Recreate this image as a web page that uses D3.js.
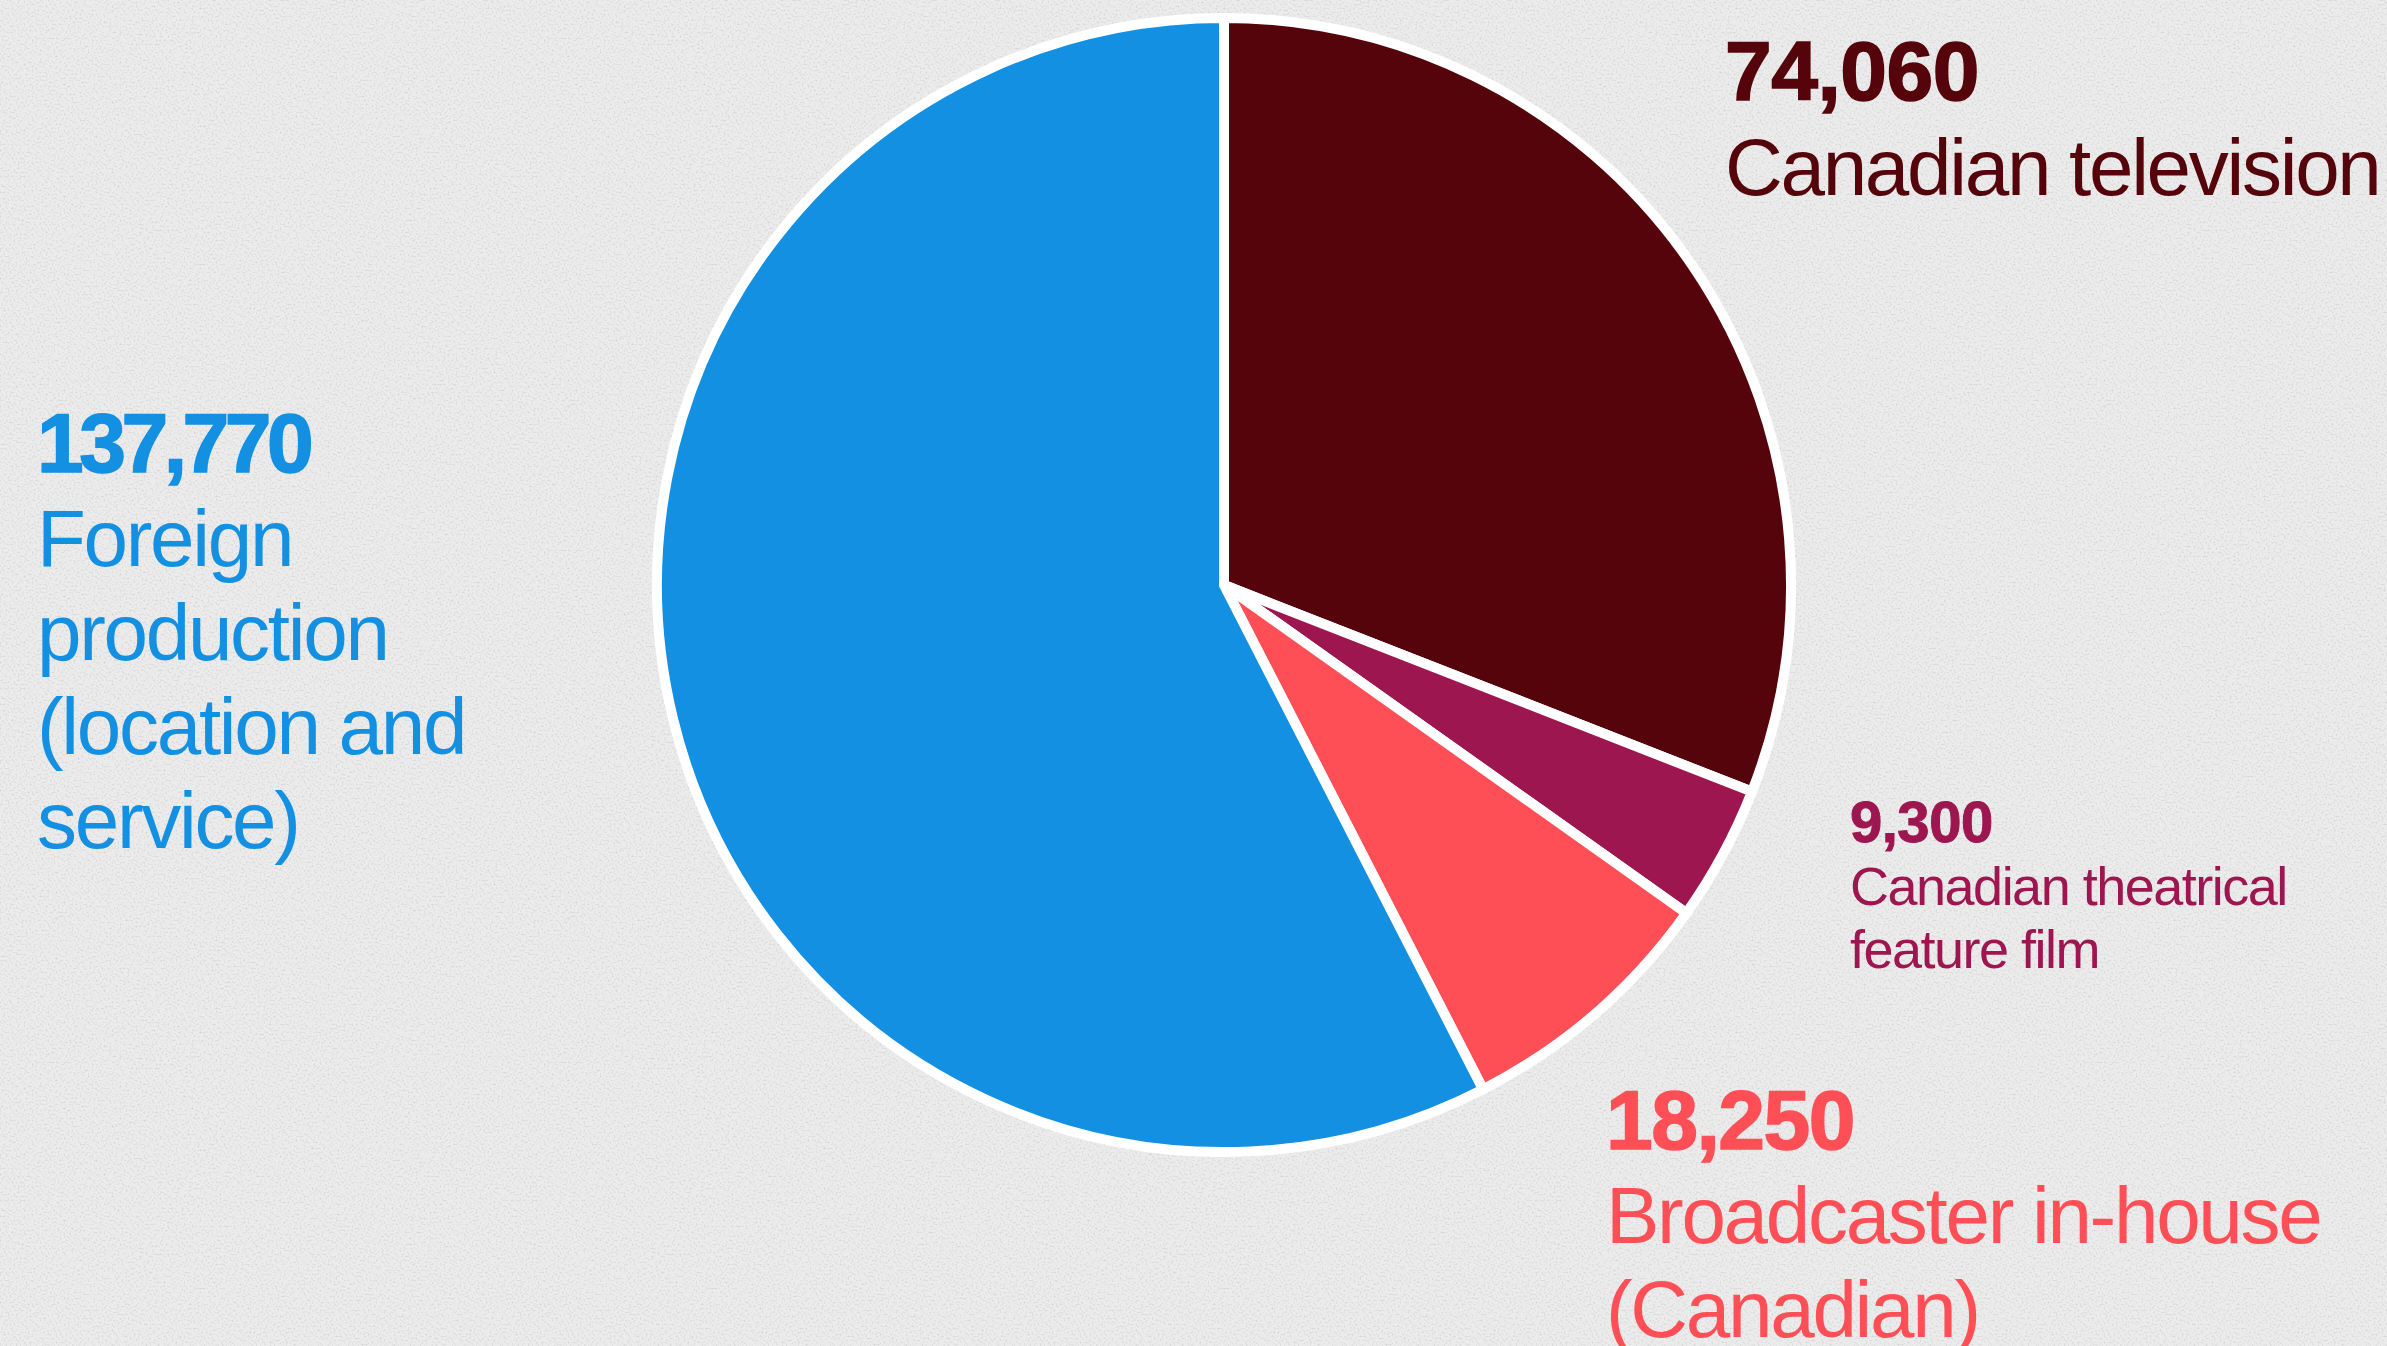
<!DOCTYPE html>
<html>
<head>
<meta charset="utf-8">
<script src="https://cdn.jsdelivr.net/npm/d3@7"></script>
<style>
  html, body { margin: 0; padding: 0; background: #e7e7e7; overflow: hidden; }
  svg { display: block; }
</style>
</head>
<body>
<svg id="chart" width="2387" height="1346"></svg>
<script>
// ---- data ----
const categories = [
  "Canadian television",
  "Canadian theatrical feature film",
  "Broadcaster in-house (Canadian)",
  "Foreign production (location and service)"
];
const values = [74060, 9300, 18250, 137770];
const labelLines = [
  ["Canadian television"],
  ["Canadian theatrical", "feature film"],
  ["Broadcaster in-house", "(Canadian)"],
  ["Foreign", "production", "(location and", "service)"]
];
const colors = ["#56040b", "#9e1650", "#fe4f57", "#1390e2"];

// ---- layout (not data) ----
const W = 2387, H = 1346;
const cx = 1224, cy = 585, R = 567;
const labelLayout = [
  { x: 1725, y: 100, numSize: 84, numLs: -0.5, txtSize: 80, lh: 95, ls: -2.3 },
  { x: 1850, y: 842, numSize: 58, numLs: -0.5, txtSize: 54, lh: 63, ls: -1.5 },
  { x: 1606, y: 1149, numSize: 84, numLs: -1.5, txtSize: 80, lh: 94, ls: -2.3 },
  { x: 37,   y: 472, numSize: 84, numLs: -4.5, txtSize: 80, lh: 94, ls: -2.3 }
];

const svg = d3.select("#chart");

// paper texture background
const defs = svg.append("defs");
const f = defs.append("filter").attr("id", "grain")
  .attr("x", 0).attr("y", 0).attr("width", "100%").attr("height", "100%");
f.append("feTurbulence").attr("type", "fractalNoise")
  .attr("baseFrequency", 0.5).attr("numOctaves", 3).attr("seed", 7).attr("result", "n");
f.append("feColorMatrix").attr("type", "matrix")
  .attr("values", "0 0 0 0 0  0 0 0 0 0  0 0 0 0 0  -1.3 0 0 0 0.7");
svg.append("rect").attr("width", W).attr("height", H).attr("fill", "#ececec");
svg.append("rect").attr("width", W).attr("height", H).attr("fill", "#000")
  .attr("filter", "url(#grain)").attr("opacity", 0.2);

// pie
const pie = d3.pie().sort(null).value(d => d)
  .startAngle(0).endAngle(2 * Math.PI);
const arc = d3.arc().innerRadius(0).outerRadius(R);
const arcs = pie(values);

const g = svg.append("g").attr("transform", `translate(${cx},${cy})`);
g.selectAll("path").data(arcs).enter().append("path")
  .attr("d", arc)
  .attr("fill", (d, i) => colors[i])
  .attr("stroke", "#ffffff")
  .attr("stroke-width", 10)
  .attr("stroke-linejoin", "miter");

// labels
const fmt = d3.format(",");
const lab = svg.append("g").attr("font-family", "'Liberation Sans', Arial, Helvetica, sans-serif");
values.forEach((v, i) => {
  const L = labelLayout[i];
  const t = lab.append("g").attr("fill", colors[i]);
  t.append("text")
    .attr("x", L.x).attr("y", L.y)
    .attr("font-size", L.numSize)
    .attr("font-weight", "bold")
    .attr("letter-spacing", L.numLs)
    .attr("stroke", colors[i])
    .attr("stroke-width", L.numSize > 60 ? 1.6 : 1)
    .text(fmt(v));
  labelLines[i].forEach((line, j) => {
    t.append("text")
      .attr("x", L.x).attr("y", L.y + L.lh * (j + 1))
      .attr("font-size", L.txtSize)
      .attr("letter-spacing", L.ls)
      .text(line);
  });
});
</script>
</body>
</html>
